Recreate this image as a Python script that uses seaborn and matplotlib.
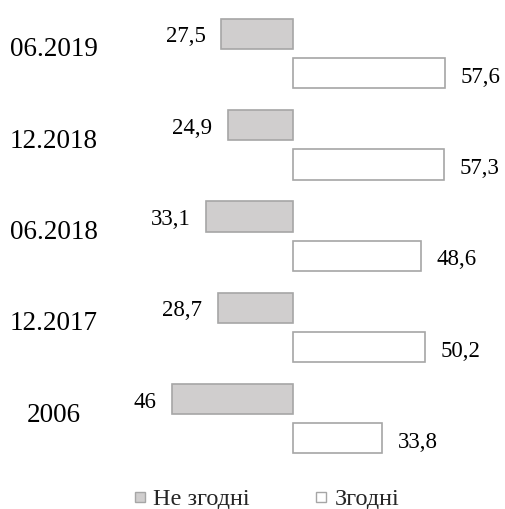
import matplotlib
matplotlib.use("Agg")
import matplotlib.pyplot as plt
import matplotlib.transforms as mtransforms
from matplotlib.lines import Line2D
import seaborn as sns
import pandas as pd

categories = ["06.2019", "12.2018", "06.2018", "12.2017", "2006"]
disagree = [27.5, 24.9, 33.1, 28.7, 46]
agree = [57.6, 57.3, 48.6, 50.2, 33.8]
series = ["Не згодні", "Згодні"]
colors = {"Не згодні": "#D0CECE", "Згодні": "#FFFFFF"}
edge = "#A6A6A6"

def fmt(v):
    return ("%g" % v).replace(".", ",")

rows = []
for c, d, a in zip(categories, disagree, agree):
    rows.append({"cat": c, "series": series[0], "val": -d})
    rows.append({"cat": c, "series": series[1], "val": a})
df = pd.DataFrame(rows)

sns.set_theme(style="white")
plt.rcParams["font.family"] = ["Liberation Serif", "DejaVu Serif"]

fig = plt.figure(figsize=(5.06, 5.09), dpi=100)
ax = fig.add_axes([110 / 506, (509 - 464.4) / 509, 390 / 506, 456.5 / 509])

sns.barplot(data=df, x="val", y="cat", hue="series", order=categories,
            hue_order=series, palette=colors, orient="h", dodge=True,
            width=0.86, gap=0.233, edgecolor=edge, linewidth=1.2,
            legend=False, ax=ax)

ax.set_xlim(-69.6, 78.7)
ax.set_ylim(4.5, -0.5)
for s in ax.spines.values():
    s.set_visible(False)
ax.set_xticks([])
ax.set_yticks([])
ax.set_xlabel("")
ax.set_ylabel("")

trans = mtransforms.blended_transform_factory(fig.transFigure, ax.transData)
off = 0.215
for i, (c, d, a) in enumerate(zip(categories, disagree, agree)):
    ax.annotate(fmt(d), xy=(-d, i - off), xytext=(-11, -2.2),
                textcoords="offset points", ha="right", va="center",
                fontsize=16.5, color="#000000")
    ax.annotate(fmt(a), xy=(a, i + off), xytext=(11.5, -3),
                textcoords="offset points", ha="left", va="center",
                fontsize=16.5, color="#000000")
    ax.text(54 / 506, i - 0.04, c, transform=trans,
            fontsize=19.5, ha="center", va="center", color="#000000")

handles = [Line2D([], [], marker="s", linestyle="none", markersize=7.5,
                  markerfacecolor=colors[s], markeredgecolor=edge,
                  markeredgewidth=1.0) for s in series]
fig.legend(handles, series, loc="center", bbox_to_anchor=(266 / 506, 1 - 499 / 509),
           ncol=2, frameon=False, fontsize=17.5, handlelength=0.6,
           handletextpad=0.25, columnspacing=2.65, borderpad=0, borderaxespad=0)

fig.savefig("out.png", dpi=100)
